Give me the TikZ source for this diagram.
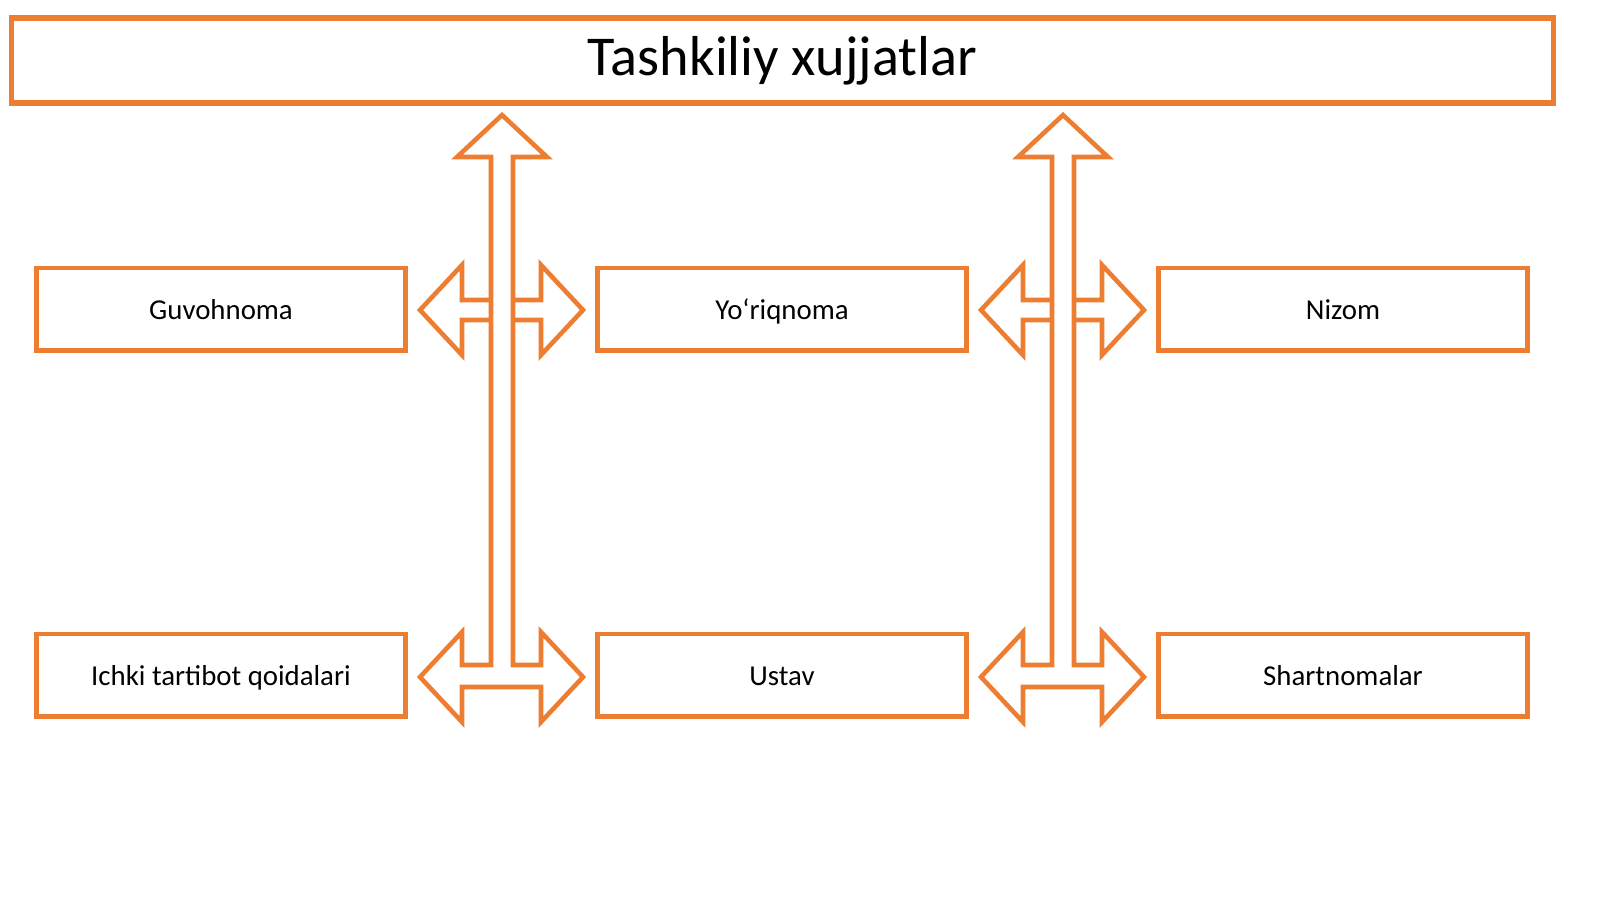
\documentclass[tikz,border=0pt]{standalone}
\usepackage{fontspec}
\setmainfont{Carlito}
\usetikzlibrary{positioning}
\definecolor{accent}{HTML}{ED7D31}

\begin{document}
\begin{tikzpicture}[
  x=0.01cm, y=-0.01cm,
  doc/.style={draw=accent, line width=1.4pt, fill=white, minimum width=3.68cm, minimum height=0.82cm, text height=1.6ex, text depth=0.3ex, font=\fontsize{8.2}{10}\selectfont},
  title/.style={draw=accent, line width=1.6pt, fill=white, minimum width=15.41cm, minimum height=0.85cm, font=\fontsize{16}{19}\selectfont},
  blk/.style={draw=accent, line width=1.3pt, fill=white, line join=miter}
]
\useasboundingbox (0,0) rectangle (1600,899);

% Sarlavha
\node[title] (top) at (782.5,60.5) {Tashkiliy xujjatlar};

% Yuqori qator
\node[doc] (guv) at (221,309) {Guvohnoma};
\node[doc] (yor) at (782,309) {Yo\textquoteleft riqnoma};
\node[doc] (niz) at (1343,309) {Nizom};

% Quyi qator
\node[doc] (ich) at (221,675) {Ichki tartibot qoidalari};
\node[doc] (ust) at (782,675) {Ustav};
\node[doc] (sha) at (1343,675) {Shartnomalar};

% Ko'p yo'nalishli strelkalar
\foreach \cx in {502,1063} {
  \begin{scope}[xshift=\cx*0.01cm]
    \draw[blk] (-82,310) -- (-40,265) -- (-40,300) -- (39,300) -- (39,265) -- (81,310)
      -- (39,355) -- (39,320) -- (-40,320) -- (-40,355) -- cycle;
    \draw[blk] (0,115) -- (45,157) -- (11,157) -- (11,665) -- (39,665) -- (39,632)
      -- (81,677) -- (39,722) -- (39,687) -- (-40,687) -- (-40,722) -- (-82,677)
      -- (-40,632) -- (-40,665) -- (-11,665) -- (-11,157) -- (-45,157) -- cycle;
  \end{scope}
}
\end{tikzpicture}
\end{document}
